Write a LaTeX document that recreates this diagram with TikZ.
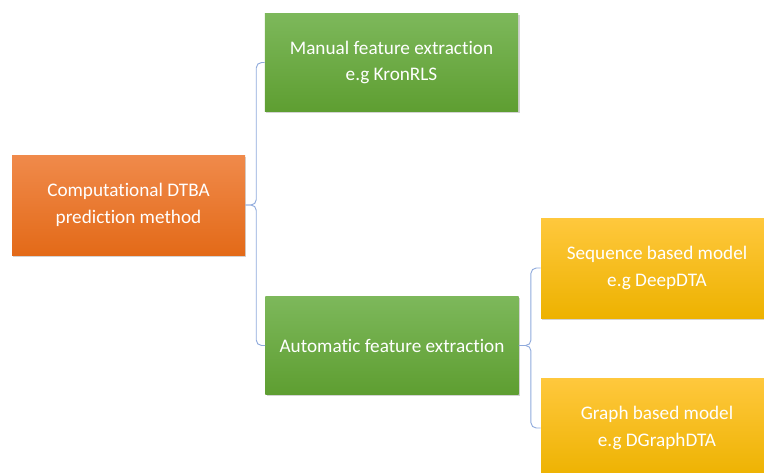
\documentclass[tikz,border=0pt]{standalone}
\usepackage{fontspec}
\setmainfont{Carlito}[Ligatures=NoCommon]
\usepackage{xcolor}
\usetikzlibrary{shadows}

\definecolor{orangetop}{HTML}{F08A4B}
\definecolor{orangebot}{HTML}{E36A18}
\definecolor{greentop}{HTML}{7DB85B}
\definecolor{greenbot}{HTML}{5E9E31}
\definecolor{yellowtop}{HTML}{FFC83D}
\definecolor{yellowbot}{HTML}{EDB200}
\definecolor{bracecol}{HTML}{8FAADC}

\begin{document}
\begin{tikzpicture}[x=0.75pt, y=-0.75pt,
    box/.style={draw=none, align=center, text=white, inner sep=2pt,
        font=\fontsize{14.4}{20}\selectfont,
        drop shadow={shadow xshift=1pt, shadow yshift=-1.2pt, opacity=0.35}},
    rootbox/.style={box, top color=orangetop, bottom color=orangebot,
        minimum width=174.75pt, minimum height=75pt},
    midbox/.style={box, top color=greentop, bottom color=greenbot,
        minimum width=190pt, minimum height=74pt},
    leafbox/.style={box, top color=yellowtop, bottom color=yellowbot,
        minimum width=174pt, minimum height=75pt},
    brace/.style={draw=bracecol, line width=0.7pt, rounded corners=4pt}]
    \useasboundingbox (0,0) rectangle (764,472);

    \node[rootbox] (root) at (128.5,205) {Computational DTBA\\prediction method};
    \node[midbox] (manual) at (391.5,62.5) {Manual feature extraction\\e.g KronRLS};
    \node[midbox] (auto) at (392,345.5) {Automatic feature extraction};
    \node[leafbox] (seq) at (657,268) {Sequence based model\\e.g DeepDTA};
    \node[leafbox] (graph) at (657,428) {Graph based model\\e.g DGraphDTA};

    % braces joining each box to its children
    \draw[brace] (root.east) -- ++(11,0) |- (manual.west);
    \draw[brace] (root.east) -- ++(11,0) |- (auto.west);
    \draw[brace] (auto.east) -- ++(12,0) |- (seq.west);
    \draw[brace] (auto.east) -- ++(12,0) |- (graph.west);
\end{tikzpicture}
\end{document}
